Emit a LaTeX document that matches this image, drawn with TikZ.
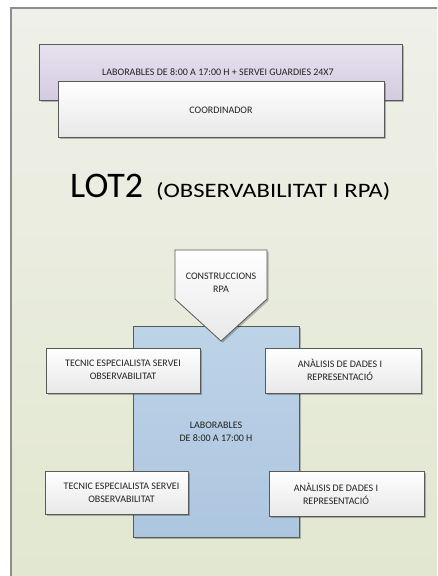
\documentclass[tikz,border=0pt]{standalone}
\usepackage{fontspec}
\setmainfont{Carlito}
\newfontfamily\widefont[FakeStretch=1.2]{Carlito}
\usetikzlibrary{shadows}

\definecolor{panelTop}{HTML}{EFF0E9}
\definecolor{panelBot}{HTML}{E1E7CF}
\definecolor{panelEdge}{HTML}{8E8E8E}
\definecolor{boxEdge}{HTML}{5A5A5A}
\definecolor{lilacTop}{HTML}{E7E2EF}
\definecolor{lilacBot}{HTML}{D4CBE0}
\definecolor{blueTop}{HTML}{BDD3E8}
\definecolor{blueBot}{HTML}{ADC6DF}
\definecolor{inkGrey}{HTML}{222222}

\tikzset{
  smalltext/.style={font=\fontsize{10}{12.8}\selectfont, text=inkGrey, align=center},
  boxbase/.style={draw=boxEdge, line width=0.8pt, inner sep=0pt,
    drop shadow={shadow xshift=1.6pt, shadow yshift=-1.6pt, opacity=0.25, fill=black}},
  whitebox/.style={boxbase, top color=white, bottom color=black!9},
  lilacbox/.style={boxbase, top color=lilacTop, bottom color=lilacBot},
  bluebox/.style={boxbase, top color=blueTop, bottom color=blueBot},
}

\begin{document}
\begin{tikzpicture}[x=1pt,y=-1pt]
\useasboundingbox (0,0) rectangle (437,576);

% background panel, running off the right and bottom edges
\begin{scope}
  \clip (0,0) rectangle (437,576);
  \fill[white] (0,0) rectangle (437,576);
  \draw[draw=panelEdge, line width=1.8pt, top color=panelTop, bottom color=panelBot]
    (11,8) rectangle (450,590);
\end{scope}

% service hours band and coordinator
\node[lilacbox, minimum width=363, minimum height=56] (hours) at (220.5,72) {};
\node[smalltext] (hourslabel) at (218,72.5) {LABORABLES DE 8:00 A 17:00 H + SERVEI GUARDIES 24X7};
\node[whitebox, minimum width=326, minimum height=56] (coord) at (221,109) {};
\node[smalltext] (coordlabel) at (221,110.5) {COORDINADOR};

% title
\node[anchor=base west, text=black, inner sep=0pt, font=\fontsize{36}{40}\selectfont]
  (title) at (70,197) {LOT2};
\node[anchor=base west, text=black, inner sep=0pt, font=\widefont\fontsize{20.5}{23}\selectfont]
  (subtitle) at (156,197) {(OBSERVABILITAT I RPA)};

% working-hours block
\node[bluebox, minimum width=166, minimum height=211] (block) at (216,431.5) {};
\node[smalltext] (blocklabel) at (216,431.5) {LABORABLES\\DE 8:00 A 17:00 H};

% RPA constructions marker
\coordinate (pA) at (175,250);
\coordinate (pB) at (267,250);
\coordinate (pC) at (267,299);
\coordinate (pD) at (221,341);
\coordinate (pE) at (175,299);
\draw[draw=boxEdge, line width=0.8pt, top color=white, bottom color=black!9,
      drop shadow={shadow xshift=1.6pt, shadow yshift=-1.6pt, opacity=0.25, fill=black}]
  (pA) -- (pB) -- (pC) -- (pD) -- (pE) -- cycle;
\node[smalltext] (rpa) at (221,283) {CONSTRUCCIONS\\RPA};

% roles
\node[whitebox, minimum width=154, minimum height=45] (tl) at (123,370.5) {};
\node[smalltext] (tllabel) at (123,370) {TECNIC ESPECIALISTA SERVEI\\OBSERVABILITAT};
\node[whitebox, minimum width=156, minimum height=45] (tr) at (343,370.5) {};
\node[smalltext] (trlabel) at (340,370) {ANÀLISIS DE DADES I\\REPRESENTACIÓ};
\node[whitebox, minimum width=143, minimum height=43] (bl) at (116.5,492.5) {};
\node[smalltext] (bllabel) at (121.5,492.5) {TECNIC ESPECIALISTA SERVEI\\OBSERVABILITAT};
\node[whitebox, minimum width=155, minimum height=45] (br) at (346.5,493.5) {};
\node[smalltext] (brlabel) at (336,493.5) {ANÀLISIS DE DADES I\\REPRESENTACIÓ};
\end{tikzpicture}
\end{document}
